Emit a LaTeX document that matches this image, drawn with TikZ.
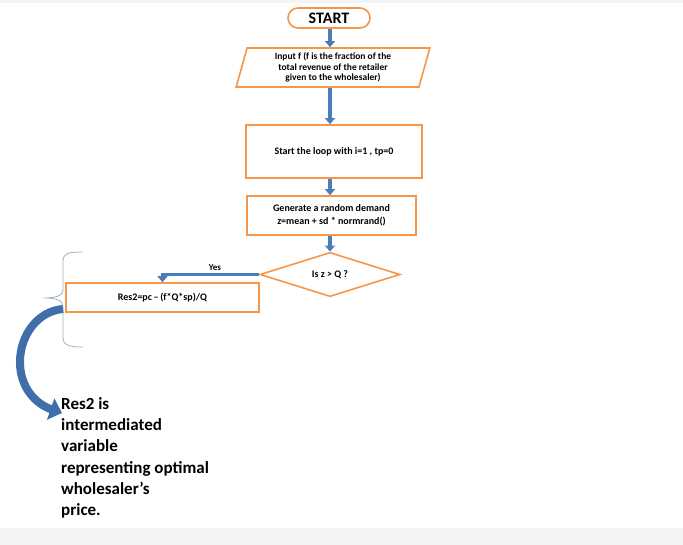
\documentclass[tikz,border=0pt]{standalone}
\usepackage{fontspec}
\setmainfont{Carlito}
\usetikzlibrary{shapes.geometric,arrows.meta}
\definecolor{boxline}{HTML}{F79646}
\definecolor{flowblue}{HTML}{4A7EBB}
\definecolor{curlblue}{HTML}{3F6EAB}
\definecolor{bracegrey}{HTML}{9AAFC6}
\definecolor{bandgrey}{HTML}{F4F4F4}
\begin{document}
\begin{tikzpicture}[x=1pt,y=-1pt,
  box/.style={draw=boxline, line width=1.6pt, fill=white, align=center,
    inner sep=0pt, font=\fontsize{10}{13}\selectfont\bfseries},
  flow/.style={draw=flowblue, line width=3.5pt, -{Triangle[length=6pt,width=10pt]}},
  lbl/.style={inner sep=0pt, font=\fontsize{9}{10}\selectfont\bfseries},
]
\useasboundingbox (0,0) rectangle (683,545);
% page bands
\fill[bandgrey] (0,0) rectangle (683,3);
\fill[bandgrey] (0,528) rectangle (683,545);

% main column
\coordinate (spine) at (330,0);
\node[box, rounded corners=10pt, minimum width=82pt, minimum height=20pt,
  font=\fontsize{16}{18}\selectfont\bfseries] (start) at (329,18) {START};
\node[box, trapezium, trapezium left angle=76, trapezium right angle=104,
  trapezium stretches=true, minimum width=194pt, minimum height=39pt,
  font=\fontsize{9.5}{10.5}\selectfont\bfseries] (input) at (333,67.5)
  {Input f (f is the fraction of the\\total revenue of the retailer\\given to the wholesaler)};
\node[box, minimum width=176pt, minimum height=53pt] (loop) at (334,151.5)
  {Start the loop with i=1 , tp=0};
\node[box, minimum width=169pt, minimum height=39pt] (gen) at (331.5,215.5)
  {Generate a random demand\\z=mean + sd * normrand()};
\node[box, diamond, minimum width=140pt, minimum height=29pt] (dec) at (330,274.5)
  {Is z > Q ?};
\node[box, minimum width=193pt, minimum height=29pt] (res) at (162.5,297.5)
  {Res2=pc\,\textendash\,(f*Q*sp)/Q};

\draw[flow] (start.south -| spine) -- (input.north -| spine);
\draw[flow] (input.south -| spine) -- (loop.north -| spine);
\draw[flow] (loop.south -| spine) -- (gen.north -| spine);
\draw[flow] (gen.south -| spine) -- (dec.north -| spine);
\draw[flow] (dec.west) -| (res.north);
\node[lbl, anchor=south] (yes) at (215,271) {Yes};

% brace beside the result box
\draw[bracegrey, line width=0.8pt]
  (83,252) .. controls (68,252) and (63,253) .. (63,262) -- (63,290)
  .. controls (63,296) and (55,298) .. (43,298)
  .. controls (55,298) and (63,300) .. (63,306) -- (63,337)
  .. controls (63,345) and (68,347) .. (83,347);

% curved pointer to the note
\node[anchor=north west, align=left, inner sep=0pt,
  font=\fontsize{17}{21.3}\selectfont\bfseries] (note) at (61,397)
  {Res2 is\\intermediated\\variable\\representing optimal\\wholesaler’s\\price.};
\coordinate (curl) at (63,309);
\draw[curlblue, line width=8pt, -{Triangle[length=12pt,width=22pt]}]
  (curl) .. controls (38,311) and (20,335) .. (20,362)
  .. controls (20,388) and (36,404) .. (62,413);
\end{tikzpicture}
\end{document}
